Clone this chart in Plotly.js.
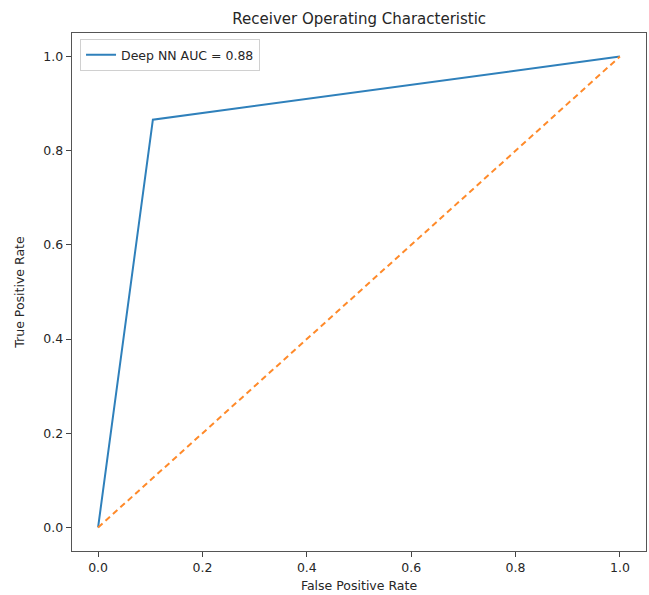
<!DOCTYPE html>
<html>
<head>
<meta charset="utf-8">
<script src="https://cdn.plot.ly/plotly-3.0.1.min.js"></script>
<style>
html,body{margin:0;padding:0;background:#fff;}
#chart{width:649px;height:595px;}
</style>
</head>
<body>
<div id="chart"></div>
<script>
// ROC curve data
const fprValues = [0.0, 0.105, 1.0];
const tprValues = [0.0, 0.866, 1.0];
const diagX = [0, 1];
const diagY = [0, 1];
const seriesName = "Deep NN AUC = 0.88";
const tickVals = [0.0, 0.2, 0.4, 0.6, 0.8, 1.0];
const tickText = ["0.0", "0.2", "0.4", "0.6", "0.8", "1.0"];

const font = "DejaVu Sans, sans-serif";
const txt = "#262626";

const traces = [
  {
    x: fprValues, y: tprValues, mode: "lines", name: seriesName,
    line: {color: "#2f80bb", width: 2}
  },
  {
    x: diagX, y: diagY, mode: "lines", showlegend: false, hoverinfo: "skip",
    line: {color: "#ff8a2a", width: 2, dash: "6px,4px"}
  }
];

const axisCommon = {
  showgrid: false, zeroline: false, showline: true, mirror: true,
  linecolor: "#555", linewidth: 1.3,
  ticks: "outside", ticklen: 5, tickwidth: 1, tickcolor: "#444",
  tickfont: {family: font, size: 12.5, color: txt},
  tickvals: tickVals, ticktext: tickText
};

const layout = {
  width: 649, height: 595,
  margin: {l: 72, r: 3, t: 33, b: 44},
  paper_bgcolor: "#fff", plot_bgcolor: "#fff",
  font: {family: font, color: txt},
  title: {
    text: "Receiver Operating Characteristic",
    font: {family: font, size: 15, color: txt},
    x: 0.5535, xanchor: "center", y: 0.968, yanchor: "middle"
  },
  xaxis: Object.assign({}, axisCommon, {
    range: [-0.05, 1.05],
    title: {text: "False Positive Rate", font: {family: font, size: 12.5, color: txt}, standoff: 7}
  }),
  yaxis: Object.assign({}, axisCommon, {
    range: [-0.05, 1.05],
    title: {text: "True Positive Rate", font: {family: font, size: 12.5, color: txt}, standoff: 16}
  }),
  legend: {
    x: 0.014, y: 0.988, xanchor: "left", yanchor: "top",
    bgcolor: "rgba(255,255,255,0.9)", bordercolor: "#d0d0d0", borderwidth: 1,
    font: {family: font, size: 12.5, color: txt},
    entrywidth: 200, entrywidthmode: "pixels"
  },
  showlegend: true
};

Plotly.newPlot("chart", traces, layout, {displayModeBar: false, staticPlot: true});
</script>
</body>
</html>
